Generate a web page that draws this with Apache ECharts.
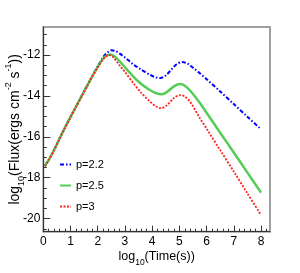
<!DOCTYPE html>
<html><head><meta charset="utf-8">
<script src="https://cdn.jsdelivr.net/npm/echarts@6/dist/echarts.min.js"></script>
<style>html,body{margin:0;padding:0;background:#fff}#c{width:300px;height:273px}</style>
</head><body><div id="c"></div>
<script>
// Data (log10 time, log10 flux)
const seriesNames = ['p=2.2', 'p=2.5', 'p=3'];
const xP22 = [0.06,0.2,0.4,0.6,0.8,1.0,1.2,1.4,1.6,1.8,2.0,2.2,2.35,2.5,2.65,2.8,3.0,3.3,3.6,3.9,4.1,4.3,4.5,4.7,4.9,5.1,5.3,5.5,5.76,6.0,6.5,7.0,7.5,8.0];
const yP22 = [-17.40,-17.12,-16.62,-16.07,-15.53,-15.02,-14.52,-14.02,-13.52,-13.02,-12.55,-12.10,-11.88,-11.77,-11.80,-11.92,-12.12,-12.45,-12.72,-12.95,-13.08,-13.13,-13.00,-12.72,-12.45,-12.34,-12.42,-12.62,-12.90,-13.18,-13.78,-14.40,-15.02,-15.63];
const xP25 = [0.06,0.2,0.4,0.6,0.8,1.0,1.2,1.4,1.6,1.8,2.0,2.2,2.35,2.45,2.6,2.8,3.0,3.3,3.6,3.9,4.15,4.35,4.55,4.8,5.03,5.2,5.4,5.76,6.0,6.5,7.0,7.5,8.0];
const yP25 = [-17.42,-17.13,-16.63,-16.08,-15.54,-15.03,-14.53,-14.03,-13.53,-13.04,-12.58,-12.17,-12.02,-11.98,-12.05,-12.30,-12.60,-13.04,-13.42,-13.70,-13.87,-13.92,-13.80,-13.53,-13.42,-13.50,-13.75,-14.36,-14.82,-15.80,-16.77,-17.75,-18.73];
const xP3 = [0.06,0.2,0.4,0.6,0.8,1.0,1.2,1.4,1.6,1.8,2.0,2.2,2.32,2.42,2.55,2.8,3.0,3.31,3.6,3.9,4.15,4.33,4.55,4.8,5.03,5.2,5.4,5.76,6.0,6.5,7.0,7.5,8.0];
const yP3 = [-17.45,-17.15,-16.65,-16.10,-15.56,-15.05,-14.55,-14.05,-13.55,-13.06,-12.60,-12.20,-12.05,-12.00,-12.08,-12.50,-12.83,-13.38,-13.85,-14.25,-14.52,-14.60,-14.45,-14.10,-13.96,-14.03,-14.30,-15.10,-15.60,-16.65,-17.70,-18.77,-19.82];
const xMajorTicks = [0,1,2,3,4,5,6,7,8];
const yMajorTicks = [-20,-18,-16,-14,-12];

const xMinorTicks = [];
for (let i = 0; i <= 41; i++) { const v = +(i * 0.2).toFixed(2); if (v <= 8.2) xMinorTicks.push(v); }
const yMinorTicks = [];
for (let v = -20.5; v <= -11; v += 0.5) yMinorTicks.push(v);

const pair = (xs, ys) => xs.map((x, i) => [x, ys[i]]);
const SANS = "'Liberation Sans', Arial, sans-serif";
const X_MIN = 0, X_MAX = 8.33, Y_MIN = -20.64, Y_MAX = -10.63;

const chart = echarts.init(document.getElementById('c'), null, {renderer: 'canvas'});
const titleRich = {
  a: {fontFamily: SANS, fontSize: 14, color: '#000', lineHeight: 22, verticalAlign: 'middle'},
  sub: {fontFamily: SANS, fontSize: 9, color: '#000', lineHeight: 9, verticalAlign: 'bottom'},
  sup: {fontFamily: SANS, fontSize: 9, color: '#000', lineHeight: 9, verticalAlign: 'top'}
};
const xTitleRich = {
  a: {fontFamily: SANS, fontSize: 12.5, color: '#000', lineHeight: 20, verticalAlign: 'middle'},
  sub: {fontFamily: SANS, fontSize: 8.5, color: '#000', lineHeight: 8.5, verticalAlign: 'bottom'}
};
chart.setOption({
  animation: false,
  backgroundColor: '#fff',
  grid: {left: 43.3, right: 30, top: 27, bottom: 41.3, show: true, borderColor: '#a0a0a0', borderWidth: 2, backgroundColor: 'transparent', outerBoundsMode: 'none', containLabel: false},
  legend: {
    orient: 'vertical', left: 59, top: 159, itemWidth: 11, itemHeight: 8, itemGap: 10,
    padding: 0,
    itemStyle: {color: 'rgba(0,0,0,0)', borderWidth: 0, opacity: 0},
    textStyle: {fontFamily: SANS, fontSize: 11, color: '#000'},
    data: seriesNames
  },
  xAxis: [{
    type: 'value', min: X_MIN, max: X_MAX, position: 'bottom',
    name: '{a|log}{sub|10}{a|(Time(s))}', nameLocation: 'middle', nameGap: 15, nameMoveOverlap: false,
    nameTextStyle: {rich: xTitleRich},
    axisLine: {show: true, lineStyle: {color: '#333', width: 1}},
    axisTick: {show: true, inside: true, length: 6, customValues: xMajorTicks, lineStyle: {color: '#333'}},
    axisLabel: {customValues: xMajorTicks, fontFamily: SANS, fontSize: 12, color: '#000', margin: 4},
    splitLine: {show: false}
  }, {
    type: 'value', min: X_MIN, max: X_MAX, position: 'bottom',
    axisLine: {show: false},
    axisTick: {show: true, inside: true, length: 3, customValues: xMinorTicks, lineStyle: {color: '#333'}},
    axisLabel: {show: false},
    splitLine: {show: false}
  }],
  yAxis: [{
    type: 'value', min: Y_MIN, max: Y_MAX, position: 'left',
    name: '{a|log}{sub|10}{a|(Flux(ergs cm}{sup|-2}{a| s}{sup|-1}{a|))}', nameLocation: 'middle', nameGap: 17, nameRotate: 90, nameMoveOverlap: false,
    nameTextStyle: {rich: titleRich},
    axisLine: {show: true, lineStyle: {color: '#333', width: 1}},
    axisTick: {show: true, inside: true, length: 7, customValues: yMajorTicks, lineStyle: {color: '#333'}},
    axisLabel: {customValues: yMajorTicks, fontFamily: SANS, fontSize: 12, color: '#000', margin: 3},
    splitLine: {show: false}
  }, {
    type: 'value', min: Y_MIN, max: Y_MAX, position: 'left',
    axisLine: {show: false},
    axisTick: {show: true, inside: true, length: 3.5, customValues: yMinorTicks, lineStyle: {color: '#333'}},
    axisLabel: {show: false},
    splitLine: {show: false}
  }],
  series: [{
    name: seriesNames[0], type: 'line', data: pair(xP22, yP22), smooth: 0.3, symbol: 'none',
    lineStyle: {color: '#0000ff', width: 2, type: [4, 2, 1.5, 2]}, itemStyle: {color: '#0000ff'}
  }, {
    name: seriesNames[1], type: 'line', data: pair(xP25, yP25), smooth: 0.3, symbol: 'none',
    lineStyle: {color: '#55cc55', width: 2.5, type: 'solid'}, itemStyle: {color: '#55cc55'}
  }, {
    name: seriesNames[2], type: 'line', data: pair(xP3, yP3), smooth: 0.3, symbol: 'none',
    lineStyle: {color: '#ff2020', width: 1.8, type: [2, 1.5]}, itemStyle: {color: '#ff2020'}
  }]
});
</script></body></html>
